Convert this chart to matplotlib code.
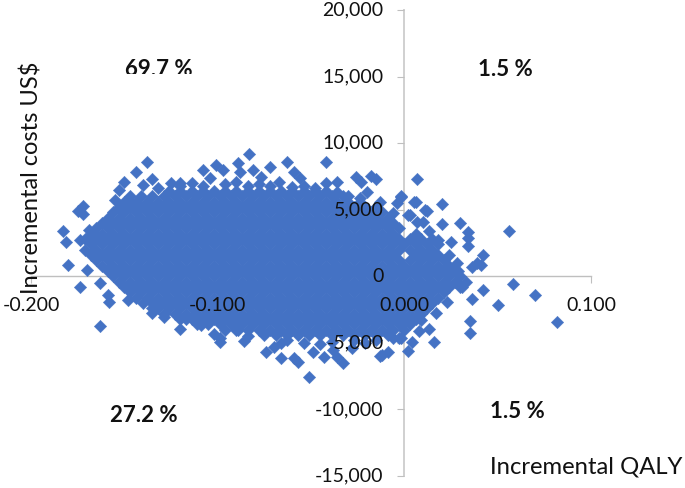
import numpy as np
import matplotlib
matplotlib.use('Agg')
import matplotlib.pyplot as plt
from matplotlib.transforms import Bbox

# dense part of the cloud, read row by row (QALY in thousandths, cost in US$)
cost_rows = [6400, 6000, 5600, 5200, 4800, 4400, 4000, 3600, 3200, 2800, 2400, 2000, 1600, 1200,
             800, 400, 0, -400, -800, -1200, -1600, -2000, -2400, -2800, -3200, -3600, -4000, -4400]
qaly_rows = [
    [-126, -120, -114, -108, -102, -96, -90, -84, -78, -72, -66, -60, -54, -48, -42],
    [-129, -123, -117, -111, -105, -99, -93, -87, -81, -75, -69, -63, -57, -51, -45, -39, -33],
    [-138, -132, -126, -120, -114, -108, -102, -96, -90, -84, -78, -72, -66, -60, -54, -48, -42, -36, -30, -24],
    [-141, -135, -129, -123, -117, -111, -105, -99, -93, -87, -81, -75, -69, -63, -57, -51, -45, -39, -33, -27, -21, -15],
    [-144, -138, -132, -126, -120, -114, -108, -102, -96, -90, -84, -78, -72, -66, -60, -54, -48, -42, -36, -30, -24, -18, -12],
    [-159, -153, -147, -141, -135, -129, -123, -117, -111, -105, -99, -93, -87, -81, -75, -69, -63, -57, -51, -45, -39, -33, -27, -21, -15, -9],
    [-162, -156, -150, -144, -138, -132, -126, -120, -114, -108, -102, -96, -90, -84, -78, -72, -66, -60, -54, -48, -42, -36, -30, -24, -18, -12, -6],
    [-165, -159, -153, -147, -141, -135, -129, -123, -117, -111, -105, -99, -93, -87, -81, -75, -69, -63, -57, -51, -45, -39, -33, -27, -21, -15, -9, -3],
    [-168, -162, -156, -150, -144, -138, -132, -126, -120, -114, -108, -102, -96, -90, -84, -78, -72, -66, -60, -54, -48, -42, -36, -30, -24, -18, -12, -6, 6],
    [-171, -165, -159, -153, -147, -141, -135, -129, -123, -117, -111, -105, -99, -93, -87, -81, -75, -69, -63, -57, -51, -45, -39, -33, -27, -21, -15, -9, -3, 3, 9, 15],
    [-168, -162, -156, -150, -144, -138, -132, -126, -120, -114, -108, -102, -96, -90, -84, -78, -72, -66, -60, -54, -48, -42, -36, -30, -24, -18, -12, -6, 0, 6, 12, 18],
    [-171, -165, -159, -153, -147, -141, -135, -129, -123, -117, -111, -105, -99, -93, -87, -81, -75, -69, -63, -57, -51, -45, -39, -33, -27, -21, -15, -9, -3, 3, 9, 15],
    [-168, -162, -156, -150, -144, -138, -132, -126, -120, -114, -108, -102, -96, -90, -84, -78, -72, -66, -60, -54, -48, -42, -36, -30, -24, -18, -12, -6, 6, 12, 18],
    [-165, -159, -153, -147, -141, -135, -129, -123, -117, -111, -105, -99, -93, -87, -81, -75, -69, -63, -57, -51, -45, -39, -33, -27, -21, -15, -9, -3, 3, 9, 15, 21],
    [-162, -156, -150, -144, -138, -132, -126, -120, -114, -108, -102, -96, -90, -84, -78, -72, -66, -60, -54, -48, -42, -36, -30, -24, -18, -12, -6, 0, 6, 12, 18, 24],
    [-159, -153, -147, -141, -135, -129, -123, -117, -111, -105, -99, -93, -87, -81, -75, -69, -63, -57, -51, -45, -39, -33, -27, -21, -15, -9, -3, 3, 9, 15, 21, 27],
    [-156, -150, -144, -138, -132, -126, -120, -114, -108, -102, -96, -90, -84, -78, -72, -66, -60, -54, -48, -42, -36, -30, -24, -18, -12, -6, 0, 6, 12, 18, 24, 30],
    [-153, -147, -141, -135, -129, -123, -117, -111, -105, -99, -93, -87, -81, -75, -69, -63, -57, -51, -45, -39, -33, -27, -21, -15, -9, -3, 3, 9, 15, 21, 27, 33],
    [-150, -144, -138, -132, -126, -120, -114, -108, -102, -96, -90, -84, -78, -72, -66, -60, -54, -48, -42, -36, -30, -24, -18, -12, -6, 0, 6, 12, 18, 24, 30],
    [-147, -141, -135, -129, -123, -117, -111, -105, -99, -93, -87, -81, -75, -69, -63, -57, -51, -45, -39, -33, -27, -21, -15, -9, -3, 3, 9, 15, 21],
    [-144, -138, -132, -126, -120, -114, -108, -102, -96, -90, -84, -78, -72, -66, -60, -54, -48, -42, -36, -30, -24, -18, -12, -6, 0, 6, 12, 18],
    [-135, -129, -123, -117, -111, -105, -99, -93, -87, -81, -75, -69, -63, -57, -51, -45, -39, -33, -27, -21, -15, -9, -3, 3, 9, 15],
    [-132, -126, -120, -114, -108, -102, -96, -90, -84, -78, -72, -66, -60, -54, -48, -42, -36, -30, -24, -18, -12, -6, 0, 6, 12],
    [-123, -117, -111, -105, -99, -93, -87, -81, -75, -69, -63, -57, -51, -45, -39, -33, -27, -21, -15, -9, -3, 3, 9],
    [-120, -114, -108, -102, -96, -90, -84, -78, -72, -66, -60, -54, -48, -42, -36, -30, -24, -18, -12, -6, 0, 6],
    [-111, -105, -99, -93, -87, -81, -75, -69, -63, -57, -51, -45, -39, -33, -27, -21, -15, -9, -3, 3],
    [-96, -90, -84, -78, -72, -66, -60, -54, -48, -42, -36, -30, -24, -18, -12, -6, 0],
    [-75, -69, -63, -57, -51, -45, -39, -33, -27, -21, -15, -9],
]

# loose points round the edge of the cloud
edge_qaly = [-138, -144, -150, -135, -140, -153, -148, -155, -172, -175, -172, -183, -181, -174, -169,
             -164, -159, -180, -170, -174, -163, -159, -158, -148, -140, -163, -135, -129, -120, -109,
             -99, -125, -120, -114, -108, -101, -104, -83, -89, -88, -97, -81, -72, -63, -77,
             -59, -56, -67, -42, -42, -36, -26, -23, -18, -15, -20, 7, -13, -2, -4,
             6, 11, 2, 7, -6, -99, -86, -74, -70, -66, -59, -57, -49, -43, -36,
             -33, -51, -12, -9, 2, -2, -28, -63, -89, -38, -2, 5, 20, 12, 3,
             10, 20, 30, 34, 34, 34, 56, 13, 18, 25, 24, 28, 29, 42, 39,
             36, 41, 31, 42, 58, 70, 82, 50, 36, 35, 35, 13, 16, 23, 17,
             -13, -3, 4, 8, 1, 9]
edge_cost = [8590, 7830, 7090, 7300, 6860, 6480, 5730, 5730, 5280, 4900, 4680, 3400, 2570, 2720, 3470,
             2950, 4230, 840, 470, -810, -510, -1410, -1940, -1790, -2020, -3750, -2770, -3070, -3970, -3670,
             -4650, 7000, 7000, 7000, 7990, 8360, 7380, 9190, 8510, 7830, 7990, 7990, 8210, 8590, 7460,
             7830, 7380, 7090, 8590, 7000, 7090, 7460, 7090, 7530, 7300, 6330, 7300, 5580, 5960, 5500,
             5580, 4980, 4600, 4080, 4750, -4950, -4870, -5700, -5320, -6150, -6150, -6450, -5700, -6070, -6070,
             -6530, -7580, -5920, -5700, -5620, -4650, -5400, -4800, -4050, -5550, 6030, 5580, 5430, 4900, 4600,
             4080, 3930, 4000, 3320, 2870, 2270, 3400, 3400, 2720, 2570, 1590, 990, 390, 1590, 990,
             690, 840, -810, -1040, -590, -1410, -3440, -2170, -1710, -3370, -4270, -3970, -4950, -1940, -2770,
             -6000, -4650, -4950, -4120, -3290, -3290]

# points that round the rim of the dense part off
rim_qaly = [-156, -150, -153, -147, -150, -144, -147, -141, -135, -132, -120, -108, -96, -90, -84, -78, -72, -60, -54,
            -48, -36, -30, -24, -102, -84, -66, -54, -45, -39, -27, -21, -15, -6, -135, -129, -117]
rim_cost = [4800, 4800, 5200, 5200, 5600, 5600, 6000, 6000, 6000, 6600, 6800, 6800, 6900, 7100, 6800, 6900, 6800, 6700, 6800,
            6600, 6300, 6000, 5900, -4300, -4500, -5000, -5000, -5100, -4900, -4800, -5000, -4800, -4600, -2400, -2800, -3200]

x_ticks = [-0.2, -0.1, 0.0, 0.1]
y_ticks = [-15000, -10000, -5000, 0, 5000, 10000, 15000, 20000]
quadrant_labels = ['69.7 %', '1.5 %', '27.2 %', '1.5 %']

W, H = 685, 488
plt.rcParams['font.family'] = ['Lato', 'DejaVu Sans']

fig = plt.figure(figsize=(W / 100, H / 100), dpi=100)
ax = fig.add_axes([31 / W, 1 - 476 / H, 560 / W, 466 / H])
ax.set_xlim(-0.2, 0.1)
ax.set_ylim(-15000, 20000)

core_x = np.concatenate(qaly_rows) / 1000
core_y = np.repeat(cost_rows, [len(r) for r in qaly_rows])
blue = '#4472C4'
for xs, ys in [(core_x, core_y), (np.array(edge_qaly) / 1000, edge_cost), (np.array(rim_qaly) / 1000, rim_cost)]:
    ax.scatter(xs, ys, marker='D', s=40, color=blue, linewidths=0.3, edgecolors=blue, zorder=3, clip_on=False)

for side in ['top', 'right']:
    ax.spines[side].set_visible(False)
ax.spines['left'].set_position(('data', 0))
ax.spines['bottom'].set_position(('data', 0))
ax.spines['left'].set_color('#D0D0D0')
ax.spines['left'].set_linewidth(1.4)
ax.spines['bottom'].set_color('#BFBFBF')
ax.spines['bottom'].set_linewidth(1.0)
ax.spines['left'].set_zorder(1)
ax.spines['bottom'].set_zorder(1)

# tick marks stay under the points, their labels are drawn over them
ax.set_xticks(x_ticks)
ax.set_yticks(y_ticks)
ax.tick_params(axis='both', length=5, width=0.8, color='#BFBFBF', labelbottom=False, labelleft=False)
ax.xaxis.set_zorder(1)
ax.yaxis.set_zorder(1)
for v in x_ticks:
    ax.annotate(f'{v:.3f}', (v, 0), xytext=(0, -21), textcoords='offset points', ha='center', va='center',
                fontsize=14, color='#111111', zorder=5, annotation_clip=False)
for v in y_ticks:
    ax.annotate(f'{v:,.0f}', (0, v), xytext=(-15, 0), textcoords='offset points', ha='right', va='center',
                fontsize=14, color='#111111', zorder=5, annotation_clip=False)


def px_text(x, y, s, **kw):
    return fig.text(x / W, 1 - y / H, s, ha='center', va='center', color='#111111', zorder=6, **kw)


t = px_text(159, 69, quadrant_labels[0], fontsize=16, fontweight='bold')
# the top label is cut off along its lower edge in the source picture
t.set_clip_box(Bbox([[0, H - 74], [W, H]]))
t.set_clip_on(True)
px_text(505, 70, quadrant_labels[1], fontsize=16, fontweight='bold')
px_text(144, 416, quadrant_labels[2], fontsize=16, fontweight='bold')
px_text(517, 411, quadrant_labels[3], fontsize=16, fontweight='bold')
px_text(586, 467, 'Incremental QALY', fontsize=17.2)
px_text(32, 178, 'Incremental costs US$', fontsize=17, rotation=90)

plt.savefig('out.png', dpi=100)
plt.close()
